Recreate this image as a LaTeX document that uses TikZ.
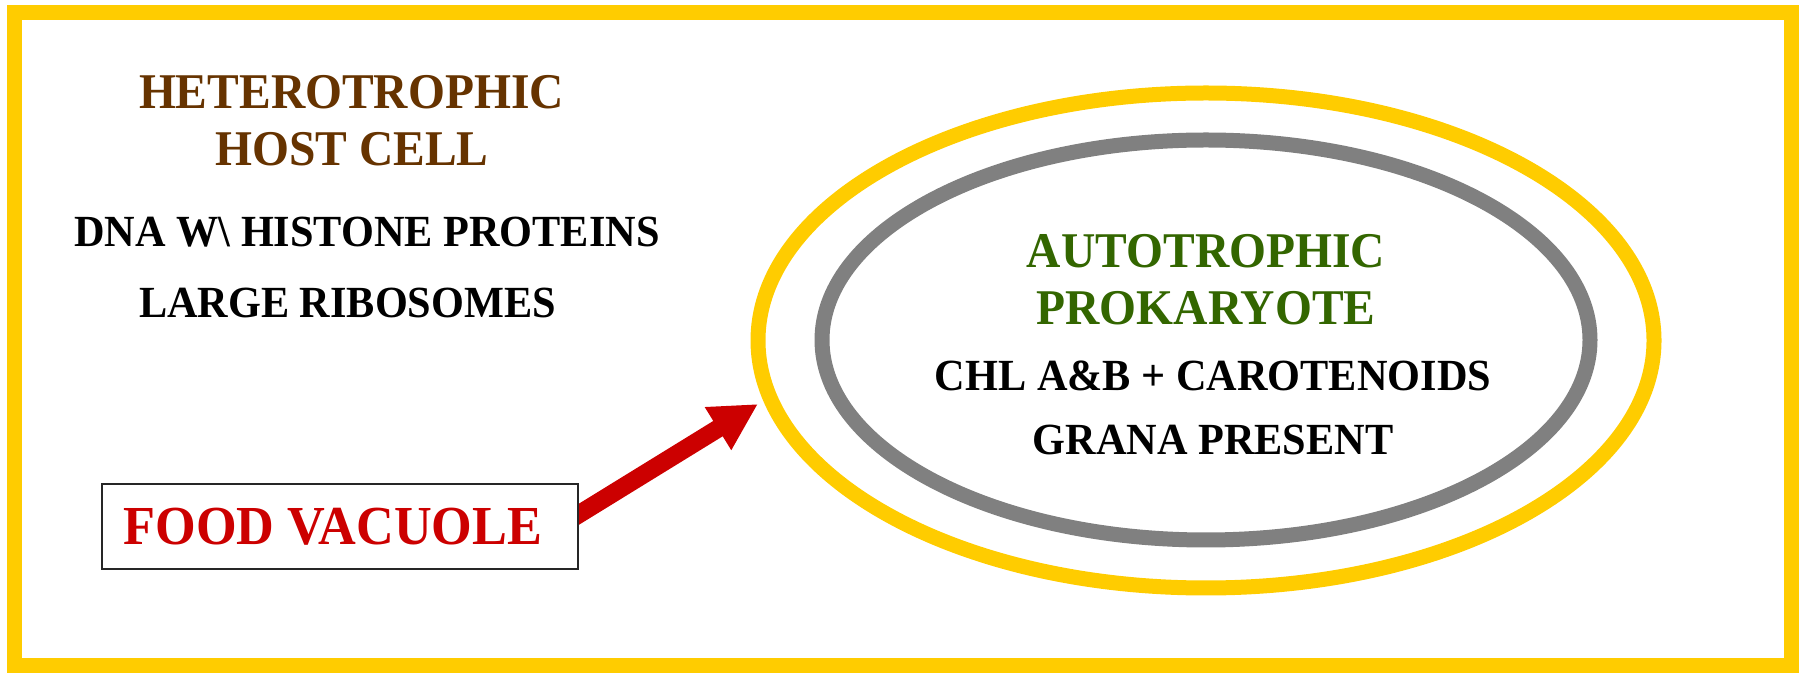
\documentclass[tikz,border=0pt]{standalone}
\usepackage{fontspec}
\setmainfont[FakeStretch=0.95]{Liberation Serif}
\usepackage{tikz}
\usetikzlibrary{arrows.meta, backgrounds}
\definecolor{frameyellow}{RGB}{255,204,0}
\definecolor{hostbrown}{RGB}{102,51,0}
\definecolor{autogreen}{RGB}{51,102,0}
\definecolor{vacred}{RGB}{204,0,0}
\definecolor{membgrey}{RGB}{128,128,128}
\tikzstyle{title} = [anchor=base, inner sep=0pt, font=\fontsize{50}{56}\selectfont\bfseries]
\tikzstyle{feature} = [anchor=base, inner sep=0pt, text=black, font=\fontsize{44.5}{50}\selectfont\bfseries]
\tikzstyle{vacuole} = [rectangle, draw=black!85, line width=2pt, fill=white, minimum width=476pt, minimum height=85pt, inner sep=0pt, text=vacred, font=\fontsize{55}{60}\selectfont\bfseries]
\tikzstyle{membrane} = [line width=15pt]
\tikzstyle{arrow} = [line width=18pt, draw=vacred, -{Triangle[length=47pt, width=47pt]}]

\begin{document}
\begin{tikzpicture}[x=1pt, y=1pt]
\useasboundingbox (0,0) rectangle (1801,674);
\draw [membrane, frameyellow] (14.5,8) rectangle (1791,661.5);

% host cell
\node (host1) [title, text=hostbrown] at (351.5,565) {HETEROTROPHIC};
\node (host2) [title, text=hostbrown] at (352,508) {HOST CELL};
\node (dna) [feature] at (367,427) {DNA W\textbackslash\ HISTONE PROTEINS};
\node (ribo) [feature] at (347.5,356) {LARGE RIBOSOMES};

% engulfed prokaryote
\draw [membrane, frameyellow] (1206,333.5) ellipse [x radius=448pt, y radius=247.5pt];
\draw [membrane, membgrey] (1206,334) ellipse [x radius=384pt, y radius=200pt];
\node (auto1) [title, text=autogreen] at (1206,406) {AUTOTROPHIC};
\node (auto2) [title, text=autogreen] at (1206,349) {PROKARYOTE};
\node (chl) [feature] at (1213,283) {CHL A\&B + CAROTENOIDS};
\node (grana) [feature] at (1213,219) {GRANA PRESENT};

\node (food) [vacuole] at (340,147.5) {FOOD VACUOLE\kern14pt};
\coordinate (tip) at (758,270);
\begin{scope}[on background layer]
\draw [arrow] ([xshift=-20pt]food.east) -- (tip);
\end{scope}

\end{tikzpicture}
\end{document}
